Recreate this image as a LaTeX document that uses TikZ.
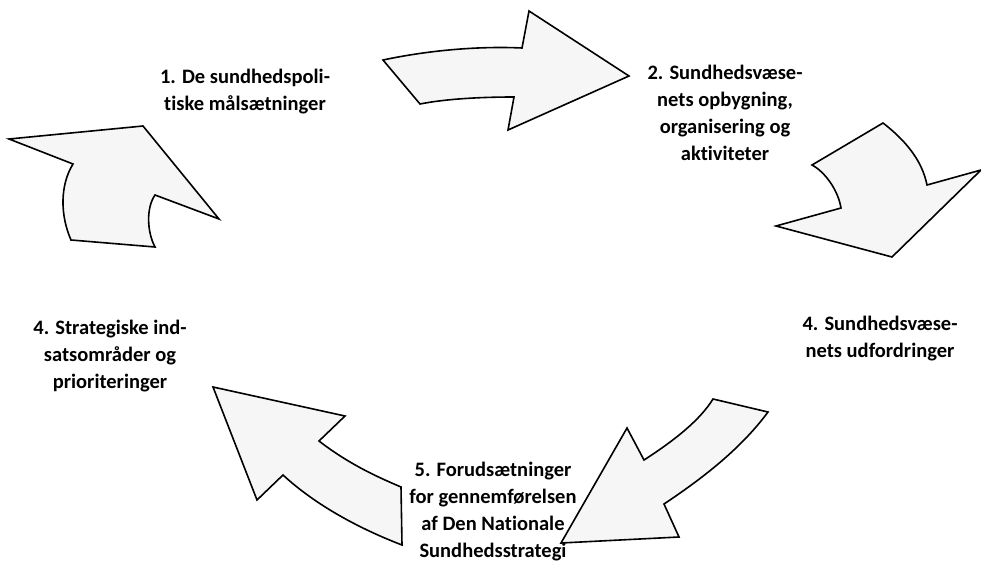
\documentclass[tikz,border=0pt]{standalone}
\usepackage{fontspec}
\setmainfont[Ligatures=NoCommon]{Carlito}
\begin{document}
\begin{tikzpicture}[x=1pt,y=-1pt]
		% Styles
		\tikzstyle{fleche}=[draw=black,line width=1.6pt,line join=miter,fill=gray!7]
		\tikzstyle{etape}=[align=center,font=\bfseries\fontsize{20.5}{27}\selectfont,inner sep=0pt]
		\useasboundingbox (0,0) rectangle (981,567);
		% Flèches
		\draw[fleche] (9,139) -- (143,126) -- (219,219) -- (155,195)
			.. controls (146,208) and (147,232) .. (155,247) -- (71,240)
			.. controls (60,215) and (60,185) .. (73,164) -- cycle;
		\draw[fleche] (383,60) .. controls (430,50) and (480,46) .. (522,48)
			-- (529,11) -- (629,76) -- (508,130) -- (514,97)
			.. controls (480,97) and (445,99) .. (420,104) -- cycle;
		\draw[fleche] (883,123) .. controls (905,140) and (922,160) .. (927,185)
			-- (981,170) -- (892,257) -- (776,226) -- (841,208)
			.. controls (838,190) and (825,172) .. (812,165) -- cycle;
		\draw[fleche] (713,399) -- (768,412) .. controls (740,450) and (700,480) .. (664,504)
			-- (679,537) -- (561,543) -- (627,428) -- (644,460)
			.. controls (675,440) and (700,420) .. (713,399) -- cycle;
		\draw[fleche] (213,387) -- (345,416) -- (319,441)
			.. controls (350,465) and (380,478) .. (401,487) -- (402,545)
			.. controls (350,525) and (310,500) .. (283,475) -- (257,500) -- cycle;
		% Textes
		\node[etape] (etape1) at (245,92) {1. De sundhedspoli-\\tiske målsætninger};
		\node[etape] (etape2) at (725,113) {2. Sundhedsvæse-\\nets opbygning,\\organisering og\\aktiviteter};
		\node[etape] (etape3) at (880,339) {4. Sundhedsvæse-\\nets udfordringer};
		\node[etape] (etape4) at (110,356) {4. Strategiske ind-\\satsområder og\\prioriteringer};
		\node[etape] (etape5) at (493,512) {5. Forudsætninger\\for gennemførelsen\\af Den Nationale\\Sundhedsstrategi};
\end{tikzpicture}
\end{document}
